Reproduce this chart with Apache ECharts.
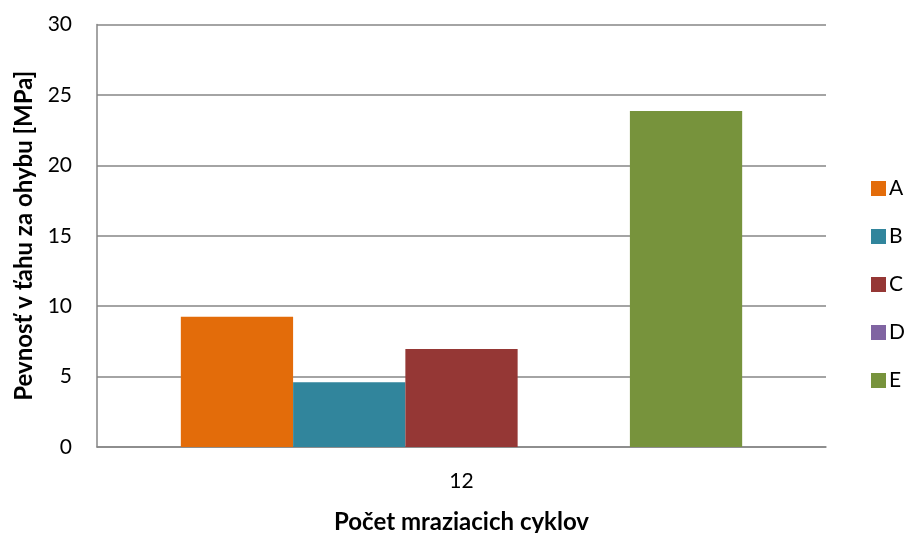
<!DOCTYPE html>
<html>
<head>
<meta charset="utf-8">
<script src="https://cdn.jsdelivr.net/npm/echarts@6/dist/echarts.min.js"></script>
<style>html,body{margin:0;padding:0;background:#fff}#c{width:905px;height:533px}</style>
</head>
<body>
<div id="c"></div>
<script>
const categories = ['12'];
const seriesNames = ['A', 'B', 'C', 'D', 'E'];
const valuesA = [9.25];
const valuesB = [4.6];
const valuesC = [6.95];
const valuesD = [0];
const valuesE = [23.85];
const seriesValues = [valuesA, valuesB, valuesC, valuesD, valuesE];
const colors = ['#E36C0A', '#31859C', '#953735', '#8064A2', '#77933C'];

const font = 'Lato, "Open Sans", sans-serif';
const chart = echarts.init(document.getElementById('c'));
chart.setOption({
  animation: false,
  grid: { left: 97, right: 79, top: 24.5, bottom: 86, containLabel: false, outerBoundsMode: 'none' },
  legend: {
    orient: 'vertical', left: 866, top: 173,
    itemWidth: 15, itemHeight: 15, itemGap: 27,
    icon: 'rect',
    textStyle: { fontFamily: font, fontSize: 21, color: '#000', padding: [0,0,0,-2] },
    data: seriesNames
  },
  xAxis: {
    type: 'category', data: categories,
    name: 'Počet mraziacich cyklov', nameLocation: 'middle', nameGap: 63,
    nameTextStyle: { fontFamily: font, fontSize: 24, fontWeight: 'bold', color: '#000' },
    axisLine: { lineStyle: { color: '#868686', width: 1.5 } },
    axisTick: { show: false },
    axisLabel: { fontFamily: font, fontSize: 21, color: '#000', margin: 24 }
  },
  yAxis: {
    type: 'value', min: 0, max: 30, interval: 5,
    name: 'Pevnosť v ťahu za ohybu [MPa]', nameLocation: 'middle', nameGap: 60,
    nameTextStyle: { fontFamily: font, fontSize: 24, fontWeight: 'bold', color: '#000' },
    axisLine: { show: true, lineStyle: { color: '#868686', width: 1.5 } },
    axisTick: { show: false },
    splitLine: { lineStyle: { color: '#868686', width: 1.5 } },
    axisLabel: { fontFamily: font, fontSize: 21, color: '#000', margin: 25 }
  },
  series: seriesNames.map((n, i) => ({
    name: n, type: 'bar', data: seriesValues[i],
    itemStyle: { color: colors[i] },
    barGap: '0%', barCategoryGap: '23%'
  }))
});
</script>
</body>
</html>
